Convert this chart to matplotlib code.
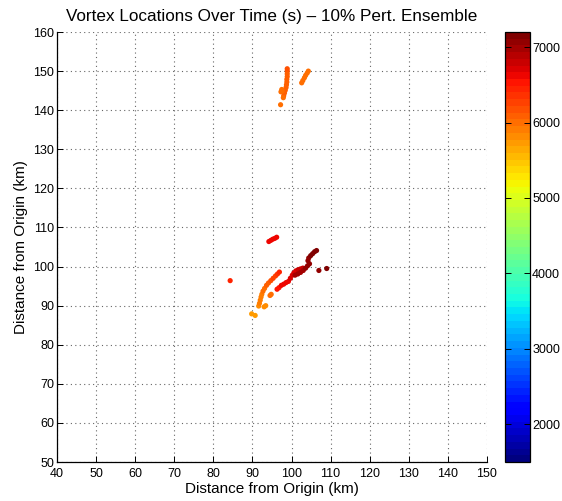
import matplotlib
matplotlib.use("Agg")
import matplotlib.pyplot as plt
import numpy as np

plt.rcParams['font.family'] = ['Liberation Sans', 'DejaVu Sans']

# Vortex positions (km) and times (s)
x_km = [98.9, 98.9, 98.9, 98.9, 98.8, 98.8, 98.7, 98.6, 98.4, 98.2, 98.0, 97.9,
        97.5, 97.3, 97.6, 97.2,
        102.6, 102.9, 103.3, 103.6, 104.0, 104.3,
        94.2, 94.7, 95.2, 95.7, 96.2,
        84.3,
        91.6, 91.8, 92.0, 92.2, 92.4, 92.7, 93.1, 93.6, 94.1, 94.7, 95.3, 95.9, 96.4, 96.9,
        89.8, 90.7, 93.0, 93.4, 94.5, 94.8,
        96.3, 96.8, 97.4, 98.0, 98.6, 99.2, 99.7, 100.2, 100.6, 101.1, 101.7, 102.3, 102.9,
        100.9, 101.6, 102.3, 103.0, 103.6, 104.1, 104.6, 104.2, 104.4, 104.9, 105.4, 105.9, 106.4,
        107.0, 109.0]
y_km = [150.6, 150.0, 149.3, 148.6, 147.9, 147.2, 146.5, 145.8, 145.1, 144.4, 143.7, 143.2,
        145.3, 144.7, 144.9, 141.4,
        147.0, 147.6, 148.3, 148.9, 149.5, 150.0,
        106.4, 106.7, 107.0, 107.2, 107.5,
        96.4,
        89.9, 90.6, 91.4, 92.2, 92.9, 93.7, 94.4, 95.2, 95.8, 96.4, 97.0, 97.6, 98.1, 98.6,
        87.9, 87.5, 89.7, 90.0, 92.6, 92.9,
        94.2, 94.6, 95.2, 95.5, 95.9, 96.2, 97.0, 97.8, 98.4, 98.9, 99.2, 99.4, 99.6,
        97.8, 98.1, 98.5, 99.0, 99.6, 100.2, 100.7, 101.5, 102.2, 102.8, 103.3, 103.8, 104.1,
        99.0, 99.5]
t_s = [6150, 6140, 6130, 6120, 6110, 6100, 6090, 6080, 6070, 6060, 6050, 6040,
       6020, 6010, 6000, 6000,
       5980, 5990, 6000, 6010, 6020, 6030,
       6600, 6610, 6620, 6630, 6640,
       6450,
       5850, 5870, 5890, 5920, 5950, 5980, 6020, 6070, 6120, 6180, 6240, 6300, 6350, 6400,
       5750, 5760, 5800, 5810, 6000, 6010,
       6550, 6570, 6600, 6620, 6640, 6660, 6680, 6700, 6720, 6740, 6760, 6780, 6800,
       6950, 6970, 6990, 7010, 7030, 7050, 7070, 7090, 7110, 7130, 7150, 7170, 7190,
       7100, 7200]

x_ticks = list(range(40, 151, 10))
y_ticks = list(range(50, 161, 10))
cb_ticks = [2000, 3000, 4000, 5000, 6000, 7000]
t_min, t_max = 1500, 7200

fig = plt.figure(figsize=(5.62, 5.01), dpi=100)
ax = fig.add_axes([0.1014, 0.0778, 0.7651, 0.8583])
cax = fig.add_axes([0.8986, 0.0778, 0.0445, 0.8583])

cmap = plt.get_cmap('jet', 64)
sc = ax.scatter(x_km, y_km, c=t_s, cmap=cmap, vmin=t_min, vmax=t_max,
                s=14, edgecolors='none', zorder=3)

ax.set_xlim(40, 150)
ax.set_ylim(50, 160)
ax.set_xticks(x_ticks)
ax.set_yticks(y_ticks)
ax.grid(True, linestyle=(0, (1, 3)), color='#666666', linewidth=0.8)
ax.spines['top'].set_visible(False)
ax.spines['right'].set_visible(False)
for s in ['left', 'bottom']:
    ax.spines[s].set_linewidth(0.9)
ax.tick_params(direction='in', length=4, labelsize=9, width=0.7, pad=2)
ax.tick_params(axis='x', pad=4.5)
ax.set_xlabel('Distance from Origin (km)', fontsize=11, labelpad=1)
ax.set_ylabel('Distance from Origin (km)', fontsize=11, labelpad=4)
ax.set_title('Vortex Locations Over Time (s) \u2013 10% Pert. Ensemble', fontsize=12.3, pad=8)

cb = fig.colorbar(sc, cax=cax, ticks=cb_ticks)
cb.ax.tick_params(direction='in', length=4, labelsize=9, width=0.7, left=True, right=True, pad=1.5)
cb.outline.set_linewidth(0.9)

fig.savefig('out.png', dpi=100)
